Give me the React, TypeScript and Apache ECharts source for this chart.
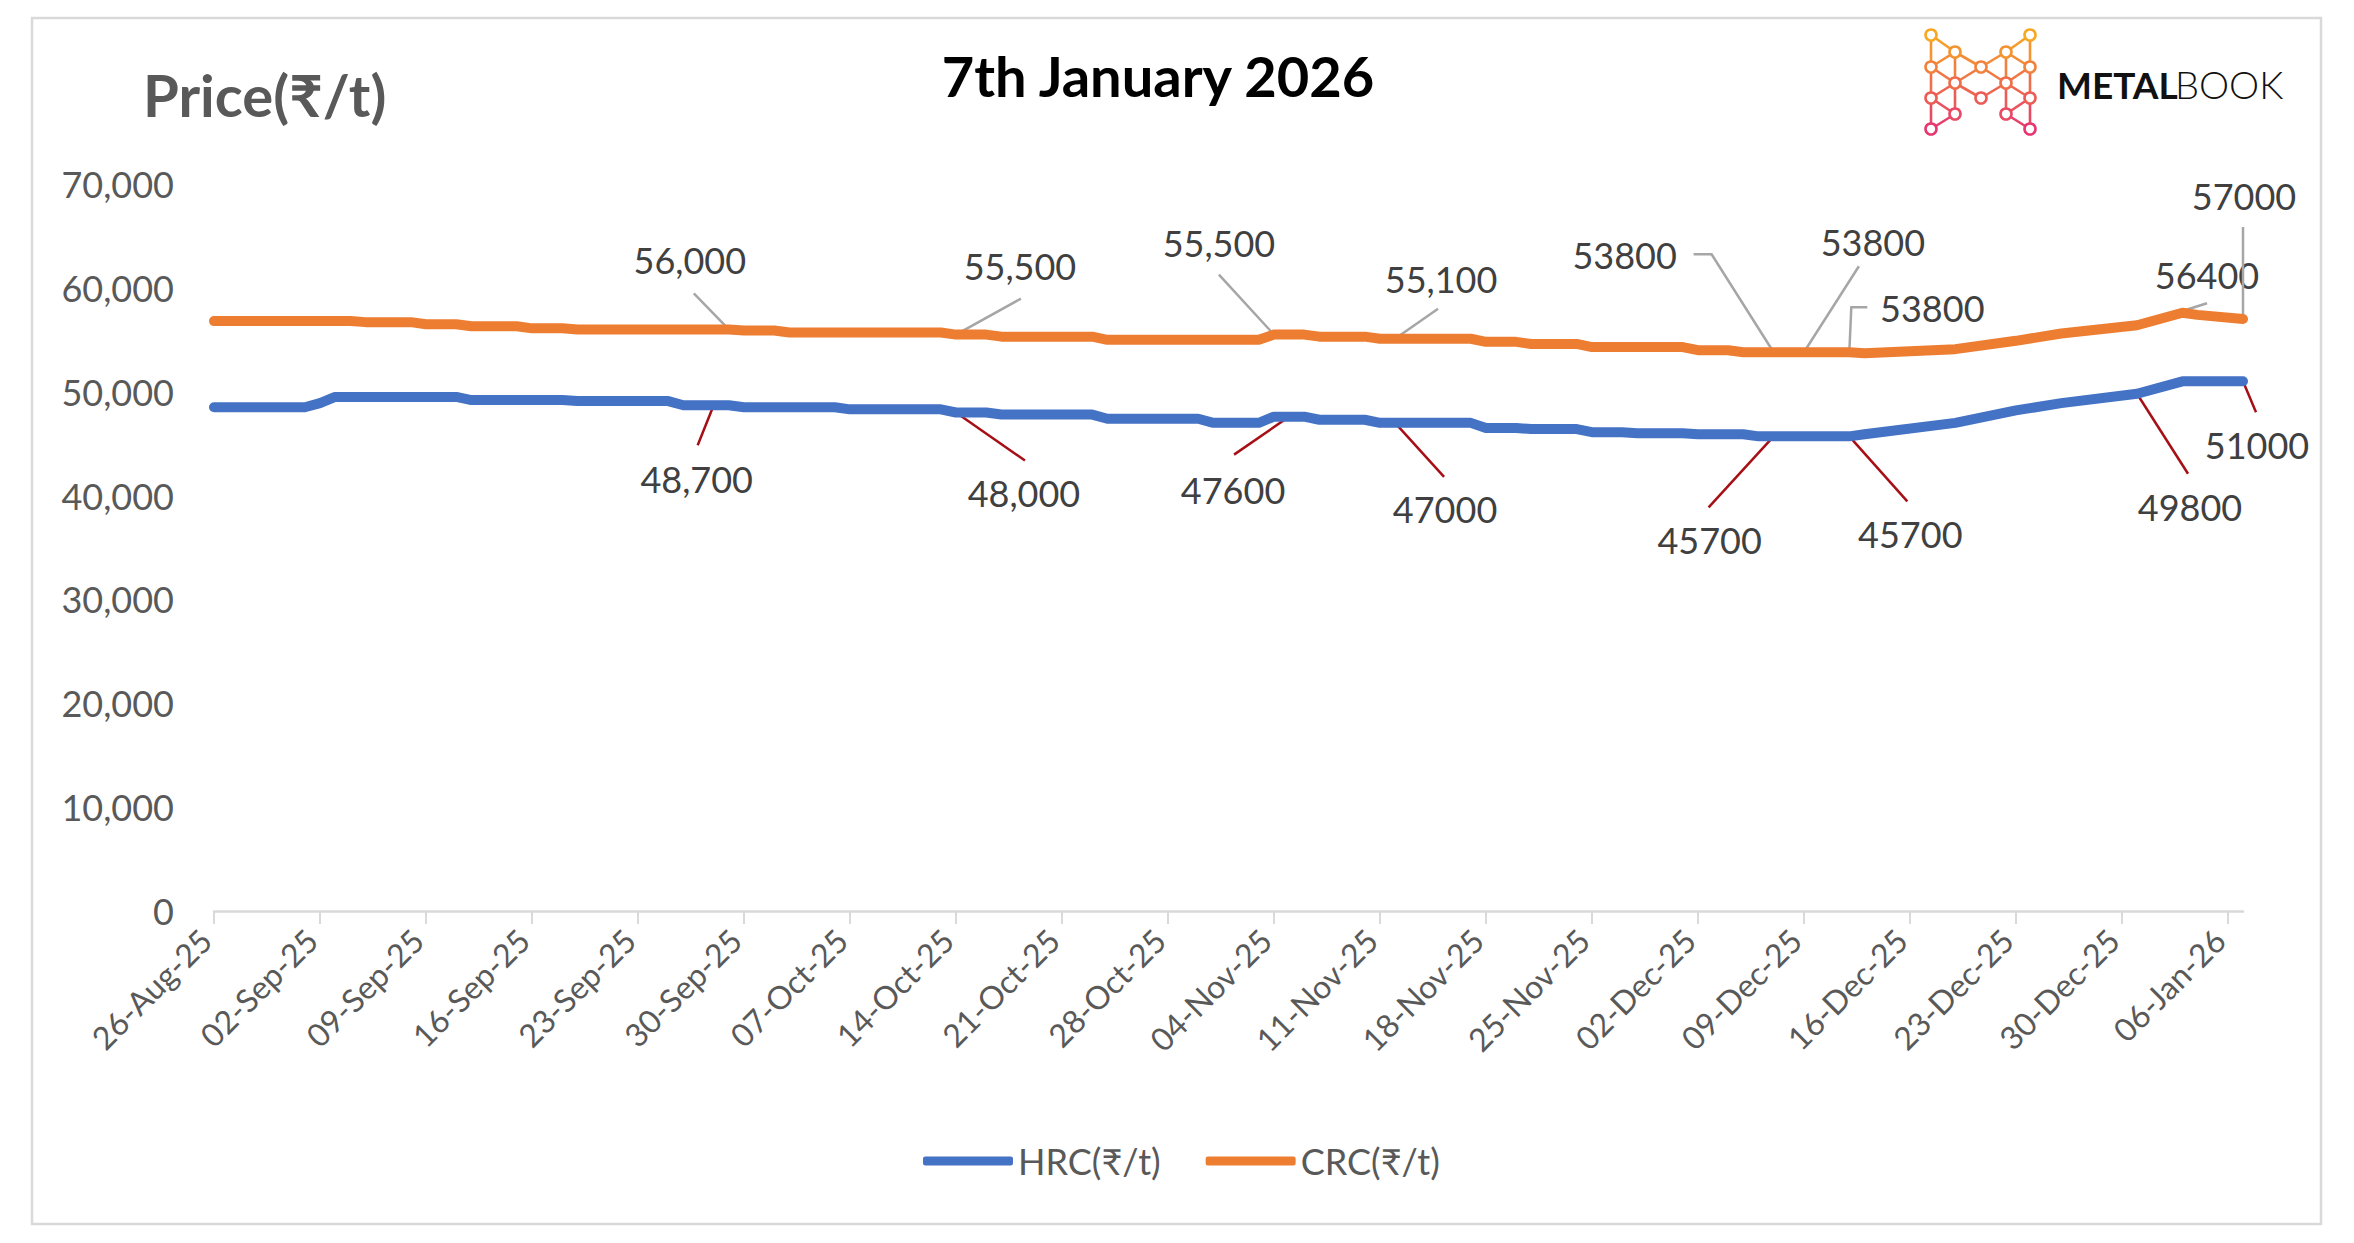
import React, { useEffect, useRef } from "react";
import * as echarts from "echarts";

// ---------- data ----------
const seriesNames = ["HRC(₹/t)", "CRC(₹/t)"];

const hrcDates = [
  "2025-08-26", "2025-09-01", "2025-09-02", "2025-09-03", "2025-09-11", "2025-09-12", "2025-09-18", "2025-09-19",
  "2025-09-25", "2025-09-26", "2025-09-29", "2025-09-30", "2025-10-06", "2025-10-07", "2025-10-13", "2025-10-14",
  "2025-10-16", "2025-10-17", "2025-10-23", "2025-10-24", "2025-10-30", "2025-10-31", "2025-11-03", "2025-11-04",
  "2025-11-06", "2025-11-07", "2025-11-10", "2025-11-11", "2025-11-17", "2025-11-18", "2025-11-20", "2025-11-21",
  "2025-11-24", "2025-11-25", "2025-11-27", "2025-11-28", "2025-12-01", "2025-12-02", "2025-12-05", "2025-12-06",
  "2025-12-12", "2025-12-13", "2025-12-19", "2025-12-23", "2025-12-26", "2025-12-31", "2026-01-03", "2026-01-07",
];
const hrcValues = [
  48500, 48500, 48900, 49500, 49500, 49200, 49200, 49100,
  49100, 48700, 48700, 48500, 48500, 48300, 48300, 48000,
  48000, 47800, 47800, 47400, 47400, 47000, 47000, 47600,
  47600, 47300, 47300, 47000, 47000, 46500, 46500, 46400,
  46400, 46100, 46100, 46000, 46000, 45900, 45900, 45700,
  45700, 45900, 47000, 48200, 48900, 49800, 51000, 51000,
];

const crcDates = [
  "2025-08-26", "2025-09-04", "2025-09-05", "2025-09-08", "2025-09-09", "2025-09-11", "2025-09-12", "2025-09-15",
  "2025-09-16", "2025-09-18", "2025-09-19", "2025-09-29", "2025-09-30", "2025-10-02", "2025-10-03", "2025-10-13",
  "2025-10-14", "2025-10-16", "2025-10-17", "2025-10-23", "2025-10-24", "2025-11-03", "2025-11-04", "2025-11-06",
  "2025-11-07", "2025-11-10", "2025-11-11", "2025-11-17", "2025-11-18", "2025-11-20", "2025-11-21", "2025-11-24",
  "2025-11-25", "2025-12-01", "2025-12-02", "2025-12-04", "2025-12-05", "2025-12-12", "2025-12-13", "2025-12-19",
  "2025-12-23", "2025-12-26", "2025-12-31", "2026-01-03", "2026-01-04", "2026-01-07",
];
const crcValues = [
  56800, 56800, 56700, 56700, 56500, 56500, 56300, 56300,
  56100, 56100, 56000, 56000, 55900, 55900, 55700, 55700,
  55500, 55500, 55300, 55300, 55000, 55000, 55500, 55500,
  55300, 55300, 55100, 55100, 54800, 54800, 54600, 54600,
  54300, 54300, 54000, 54000, 53800, 53800, 53700, 54100,
  54900, 55600, 56400, 57600, 57400, 57000,
];

const axisStartDate = "2025-08-26";
const axisEndDate = "2026-01-07";
const tickDates = [
  "2025-08-26", "2025-09-02", "2025-09-09", "2025-09-16", "2025-09-23", "2025-09-30", "2025-10-07",
  "2025-10-14", "2025-10-21", "2025-10-28", "2025-11-04", "2025-11-11", "2025-11-18", "2025-11-25",
  "2025-12-02", "2025-12-09", "2025-12-16", "2025-12-23", "2025-12-30", "2026-01-06",
];
const yTicks = [0, 70000, 10000]; // min, max, interval

// annotated points
const hrcLabelDates = ["2025-09-28", "2025-10-14", "2025-11-05", "2025-11-12", "2025-12-07", "2025-12-12", "2025-12-31", "2026-01-07"];
const hrcLabelValues = [48700, 48000, 47600, 47000, 45700, 45700, 49800, 51000];
const hrcLabelTexts = ["48,700", "48,000", "47600", "47000", "45700", "45700", "49800", "51000"];

const crcLabelDates = ["2025-09-29", "2025-10-14", "2025-11-04", "2025-11-12", "2025-12-07", "2025-12-09", "2025-12-12", "2025-12-31", "2026-01-07"];
const crcLabelValues = [56000, 55500, 55500, 55100, 53800, 53800, 53800, 56400, 57000];
const crcLabelTexts = ["56,000", "55,500", "55,500", "55,100", "53800", "53800", "53800", "56400", "57000"];

// ---------- layout (pixel offsets of labels / leader lines from their point) ----------
const hrcLabelLayout = [
  { leader: [[-16, 40]], text: [-17, 74] },
  { leader: [[69, 48]], text: [68, 81] },
  { leader: [[-55, 38]], text: [-56, 73] },
  { leader: [[49, 54]], text: [50, 86] },
  { leader: [[-65, 71]], text: [-64, 104] },
  { leader: [[58, 65]], text: [61, 98] },
  { leader: [[51, 80]], text: [53, 113] },
  { leader: [[13, 31]], text: [14, 64] },
];
const crcLabelLayout = [
  { leader: [[-35, -36]], text: [-39, -69] },
  { leader: [[65, -36]], text: [64, -69] },
  { leader: [[-55, -60]], text: [-55, -92] },
  { leader: [[43, -30]], text: [46, -60] },
  { leader: [[-62, -98], [-80, -98]], text: [-149, -97] },
  { leader: [[55, -86]], text: [69, -110] },
  { leader: [[2, -45], [18, -45]], text: [83, -44] },
  { leader: [[70, -22]], text: [70, -50] },
  { leader: [[0, -92]], text: [1, -123] },
];

const FONT = "Lato, 'Noto Sans', 'DejaVu Sans', sans-serif";
const MONTHS = ["Jan", "Feb", "Mar", "Apr", "May", "Jun", "Jul", "Aug", "Sep", "Oct", "Nov", "Dec"];
const DAY = 86400000;
const START = Date.parse(axisStartDate + "T00:00:00Z");
const dayOf = (s: string) => Math.round((Date.parse(s + "T00:00:00Z") - START) / DAY);
const fmtDay = (v: number) => {
  const d = new Date(START + Math.round(v) * DAY);
  const dd = String(d.getUTCDate()).padStart(2, "0");
  const yy = String(d.getUTCFullYear() % 100).padStart(2, "0");
  return `${dd}-${MONTHS[d.getUTCMonth()]}-${yy}`;
};

function labelSeries(dates: string[], values: number[], texts: string[], layout: any[], leaderColor: string) {
  return {
    type: "custom",
    silent: true,
    z: 1,
    clip: false,
    data: dates.map((d, i) => [dayOf(d), values[i]]),
    renderItem: (params: any, api: any) => {
      const i = params.dataIndex;
      const p = api.coord([api.value(0), api.value(1)]);
      const L = layout[i];
      const pts = [[p[0], p[1]], ...L.leader.map((o: number[]) => [p[0] + o[0], p[1] + o[1]])];
      return {
        type: "group",
        children: [
          {
            type: "polyline",
            shape: { points: pts },
            style: { stroke: leaderColor, lineWidth: 2.5, fill: null },
          },
          {
            type: "text",
            x: p[0] + L.text[0],
            y: p[1] + L.text[1],
            style: {
              text: texts[i],
              fill: "#404040",
              font: `36px ${FONT}`,
              align: "center",
              verticalAlign: "middle",
              textAlign: "center",
              textVerticalAlign: "middle",
            },
          },
        ],
      };
    },
  };
}

// logo geometry
const logoCols = [1931, 1955, 1981, 2006, 2030];
const logoRows = [35, 52, 67, 83, 98, 114, 129];
const logoNodes: [number, number][] = [
  [0, 0], [4, 0], [1, 1], [3, 1], [0, 2], [2, 2], [4, 2], [1, 3], [3, 3], [0, 4], [2, 4], [4, 4], [1, 5], [3, 5], [0, 6], [4, 6],
];
const logoEdges: [number, number][] = [
  [0, 4], [4, 9], [9, 14], [1, 6], [6, 11], [11, 15],
  [0, 2], [2, 5], [5, 3], [3, 1], [2, 7], [3, 8],
  [4, 2], [4, 7], [7, 5], [5, 8], [6, 3], [6, 8],
  [7, 10], [10, 8], [9, 7], [11, 8], [9, 12], [11, 13],
  [12, 14], [13, 15], [7, 12], [8, 13],
];

function logoColor(y: number) {
  const t = Math.max(0, Math.min(1, (y - 35) / (129 - 35)));
  const a = [247, 168, 35];
  const b = [230, 55, 112];
  const c = a.map((v, k) => Math.round(v + (b[k] - v) * t));
  return `rgb(${c[0]},${c[1]},${c[2]})`;
}

function buildLogo() {
  const els: any[] = [];
  const P = (n: number) => [logoCols[logoNodes[n][0]], logoRows[logoNodes[n][1]]];
  logoEdges.forEach(([a, b]) => {
    const pa = P(a), pb = P(b);
    els.push({
      type: "line",
      shape: { x1: pa[0], y1: pa[1], x2: pb[0], y2: pb[1] },
      style: { stroke: logoColor((pa[1] + pb[1]) / 2), lineWidth: 2.6 },
    });
  });
  logoNodes.forEach((_, n) => {
    const p = P(n);
    els.push({
      type: "circle",
      shape: { cx: p[0], cy: p[1], r: 5.5 },
      style: { fill: "#fff", stroke: logoColor(p[1]), lineWidth: 2.6 },
    });
  });
  return els;
}

export default function App() {
  const ref = useRef<HTMLDivElement>(null);
  useEffect(() => {
    if (!ref.current) return;
    const chart = echarts.init(ref.current, undefined, { renderer: "svg" });
    const tickDays = tickDates.map(dayOf);
    const option: any = {
      animation: false,
      backgroundColor: "#ffffff",
      textStyle: { fontFamily: FONT },
      grid: { left: 214, right: 111, top: 184, bottom: 332, containLabel: false, outerBoundsMode: "none" },
      legend: {
        data: seriesNames,
        left: 918,
        top: 1138,
        icon: "roundRect",
        itemWidth: 90,
        itemHeight: 9,
        itemGap: 45,
        textStyle: { fontSize: 36, color: "#595959", fontFamily: FONT },
      },
      xAxis: {
        type: "value",
        min: dayOf(axisStartDate),
        max: dayOf(axisEndDate),
        interval: 7,
        splitLine: { show: false },
        axisLine: { show: true, lineStyle: { color: "#D9D9D9", width: 2.5 } },
        axisTick: { show: true, customValues: tickDays, length: 13, lineStyle: { color: "#D9D9D9", width: 2 } },
        axisLabel: {
          customValues: tickDays,
          rotate: 45,
          margin: 15,
          padding: [0, 12, 0, 0],
          fontSize: 32,
          color: "#595959",
          fontFamily: FONT,
          formatter: (v: number) => fmtDay(v),
        },
      },
      yAxis: {
        type: "value",
        min: yTicks[0],
        max: yTicks[1],
        interval: yTicks[2],
        splitLine: { show: false },
        axisLine: { show: false },
        axisTick: { show: false },
        axisLabel: { margin: 40, fontSize: 36, color: "#595959", fontFamily: FONT },
      },
      graphic: [
        {
          type: "rect",
          shape: { x: 32, y: 18, width: 2289, height: 1206 },
          style: { fill: "none", stroke: "#D9D9D9", lineWidth: 2.5 },
          z: -10,
        },
        {
          type: "text",
          x: 1158,
          y: 75,
          style: {
            text: "7th January 2026",
            font: `bold 56px ${FONT}`,
            fill: "#000000",
            align: "center",
            verticalAlign: "middle",
          },
        },
        {
          type: "text",
          x: 143,
          y: 94,
          style: {
            text: "Price(₹/t)",
            font: `bold 58px ${FONT}`,
            fill: "#595959",
            align: "left",
            verticalAlign: "middle",
          },
        },
        {
          type: "text",
          x: 2057,
          y: 84,
          style: { text: "METAL", font: `bold 37px ${FONT}`, fill: "#111111", align: "left", verticalAlign: "middle" },
        },
        {
          type: "text",
          x: 2175,
          y: 84,
          style: { text: "BOOK", font: `300 38px ${FONT}`, fill: "#111111", align: "left", verticalAlign: "middle" },
        },
        ...buildLogo(),
      ],
      series: [
        {
          name: seriesNames[0],
          type: "line",
          z: 2,
          symbol: "none",
          showSymbol: false,
          color: "#4472C4",
          itemStyle: { color: "#4472C4" },
          lineStyle: { width: 10, color: "#4472C4", cap: "round", join: "round" },
          data: hrcDates.map((d, i) => [dayOf(d), hrcValues[i]]),
        },
        {
          name: seriesNames[1],
          type: "line",
          z: 2,
          symbol: "none",
          showSymbol: false,
          color: "#ED7D31",
          itemStyle: { color: "#ED7D31" },
          lineStyle: { width: 10, color: "#ED7D31", cap: "round", join: "round" },
          data: crcDates.map((d, i) => [dayOf(d), crcValues[i]]),
        },
        labelSeries(hrcLabelDates, hrcLabelValues, hrcLabelTexts, hrcLabelLayout, "#A50F15"),
        labelSeries(crcLabelDates, crcLabelValues, crcLabelTexts, crcLabelLayout, "#A6A6A6"),
      ],
    };
    chart.setOption(option);
    return () => chart.dispose();
  }, []);
  return (
    <div
      ref={ref}
      style={{ position: "absolute", left: 0, top: 0, width: 2354, height: 1243, background: "#fff" }}
    />
  );
}
